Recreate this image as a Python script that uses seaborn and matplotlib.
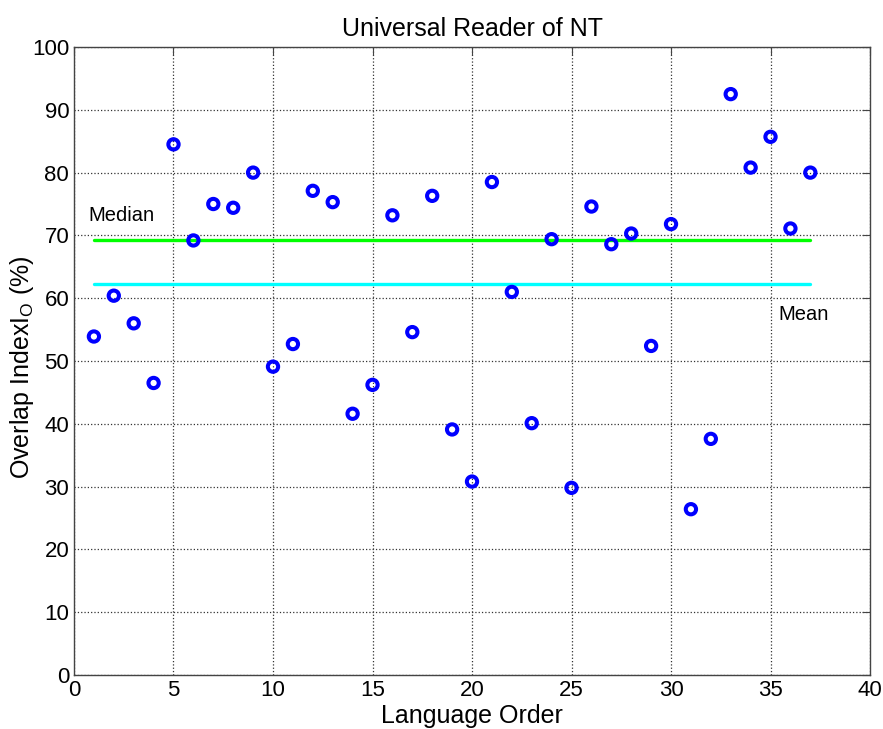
import numpy as np
import pandas as pd
import seaborn as sns
import matplotlib
matplotlib.use("Agg")
import matplotlib.pyplot as plt

# overlap index per language
order = list(range(1, 38))
overlap = [53.9, 60.4, 56.0, 46.5, 84.5, 69.2, 75.0, 74.4, 80.0, 49.1,
           52.7, 77.1, 75.3, 41.6, 46.2, 73.2, 54.6, 76.3, 39.1, 30.8,
           78.5, 61.0, 40.1, 69.4, 29.8, 74.6, 68.6, 70.3, 52.4, 71.8,
           26.4, 37.6, 92.5, 80.8, 85.7, 71.1, 80.0]

df = pd.DataFrame({"order": order, "overlap": overlap})
med = np.median(overlap)
avg = np.mean(overlap)

sns.set_style("white")
plt.rcParams['font.family'] = ['Liberation Sans', 'DejaVu Sans']
plt.rcParams['text.color'] = 'black'
plt.rcParams['axes.labelcolor'] = 'black'
plt.rcParams['xtick.labelcolor'] = 'black'
plt.rcParams['ytick.labelcolor'] = 'black'

fig = plt.figure(figsize=(8.83, 7.29), dpi=100)
ax = fig.add_axes([0.0838, 0.0741, 0.9015, 0.8614])

# median / mean lines
sns.lineplot(x=[1, 37], y=[med, med], color="#00ff00", linewidth=2.4, ax=ax)
sns.lineplot(x=[1, 37], y=[avg, avg], color="#00ffff", linewidth=2.4, ax=ax)

sns.scatterplot(data=df, x="order", y="overlap", s=55, facecolors="none",
                edgecolor="#0000ff", linewidth=2.9, ax=ax, zorder=3)

ax.set_xlim(0, 40)
ax.set_ylim(0, 100)
ax.set_xticks(range(0, 41, 5))
ax.set_yticks(range(0, 101, 10))
ax.grid(True, linestyle=":", color="#333333", linewidth=0.9)
ax.tick_params(direction="in", labelsize=16, length=6, top=True, right=True,
               color="#444444")
for s in ax.spines.values():
    s.set_color("#444444")
    s.set_linewidth(1.0)

ax.text(0.7, 72.3, "Median", fontsize=14.5)
ax.text(35.4, 56.6, "Mean", fontsize=14.5)

ax.set_title("Universal Reader of NT", fontsize=18, pad=8)
ax.set_xlabel("Language Order", fontsize=18)
ax.set_ylabel("Overlap Index$\\mathregular{I_O}$ (%)", fontsize=18)
ax.xaxis.set_label_coords(0.5, -0.046)
ax.yaxis.set_label_coords(-0.048, 0.49)

fig.savefig("out.png", dpi=100)
